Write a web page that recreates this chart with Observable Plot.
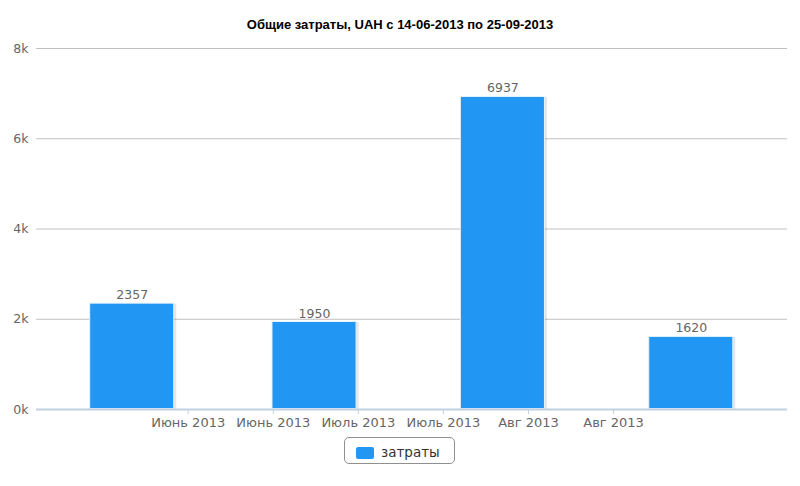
<!DOCTYPE html>
<html>
<head>
<meta charset="utf-8">
<script src="https://cdn.jsdelivr.net/npm/d3@7"></script>
<script src="https://cdn.jsdelivr.net/npm/@observablehq/plot@0.6"></script>
<style>
  html, body { margin: 0; padding: 0; background: #fff; }
  #wrap { position: relative; width: 800px; height: 486px; overflow: hidden; }
  #title { position: absolute; left: 0; top: 17px; width: 800px; text-align: center;
    font-family: "Liberation Sans Narrow", "Arial Narrow", "Liberation Sans", sans-serif;
    font-weight: bold; font-size: 13px; color: #000; }
  #legend { position: absolute; left: 344px; top: 437px; width: 111px; height: 27px;
    border: 1px solid #909090; border-radius: 5px; box-sizing: border-box;
    font-family: "DejaVu Sans", sans-serif; font-size: 13.5px; color: #333; }
  #legend .sw { position: absolute; left: 11px; top: 9px; width: 18px; height: 12px;
    background: #2196f3; border-radius: 2px; }
  #legend .lb { position: absolute; left: 36px; top: 6px; }
  svg { position: absolute; left: 0; top: 0; }
  g[aria-label="x-axis tick"] { stroke: #c0d0e0; }
</style>
</head>
<body>
<div id="wrap">
  <div id="chart"></div>
  <div id="title">Общие затраты, UAH с 14-06-2013 по 25-09-2013</div>
  <div id="legend"><div class="sw"></div><div class="lb">затраты</div></div>
</div>
<script>
const months = ["2013-06-01", "2013-07-01", "2013-08-01", "2013-09-01"];
const costs = [2357, 1950, 6937, 1620];
const seriesName = "затраты";
const yTicks = [0, 2000, 4000, 6000, 8000];
const yTickLabels = ["0k", "2k", "4k", "6k", "8k"];
const xTickDates = ["2013-06-10", "2013-06-24", "2013-07-08", "2013-07-22", "2013-08-05", "2013-08-19"];
const xTickLabels = ["Июнь 2013", "Июнь 2013", "Июль 2013", "Июль 2013", "Авг 2013", "Авг 2013"];

const data = months.map((m, i) => {
  const d = new Date(m + "T00:00Z");
  return { date: d, x1: d3.utcHour.offset(d, -168), x2: d3.utcHour.offset(d, 168), value: costs[i], name: seriesName };
});
const xTicks = xTickDates.map(s => new Date(s + "T05:00Z"));

const font = "DejaVu Sans, sans-serif";
const chart = Plot.plot({
  width: 800,
  height: 486,
  marginTop: 48,
  marginBottom: 77,
  marginLeft: 36,
  marginRight: 13,
  style: { fontFamily: font, fontSize: "12.5px", color: "#666", background: "transparent" },
  x: { type: "utc", label: null, domain: [new Date("2013-05-16T06:00Z"), new Date("2013-09-16T20:00Z")] },
  y: { label: null, domain: [0, 8000] },
  marks: [
    Plot.ruleY(yTicks.slice(1), { stroke: "#c0c0c0", strokeWidth: 1 }),
    Plot.rectY(data, { x1: "x1", x2: "x2", y: "value", fill: "#000", fillOpacity: 0.1, dx: 2, dy: 1 }),
    Plot.rectY(data, { x1: "x1", x2: "x2", y: "value", fill: "#2196f3", stroke: "#e6f3fd", strokeWidth: 1, inset: 0.5 }),
    Plot.ruleY([0], { stroke: "#c0d0e0", strokeWidth: 2 }),
    Plot.axisY({ ticks: yTicks, tickFormat: (d, i) => yTickLabels[i], tickSize: 0, tickPadding: 8, fill: "#666", label: null }),
    Plot.axisX({ ticks: xTicks, tickFormat: (d, i) => xTickLabels[i], tickSize: 5, tickPadding: 3, fill: "#666", label: null, fontSize: 13 }),
    Plot.text(data, { x: "date", y: "value", text: d => String(d.value), dy: -4, lineAnchor: "bottom", fill: "#666" })
  ]
});
document.getElementById("chart").appendChild(chart);
</script>
</body>
</html>
